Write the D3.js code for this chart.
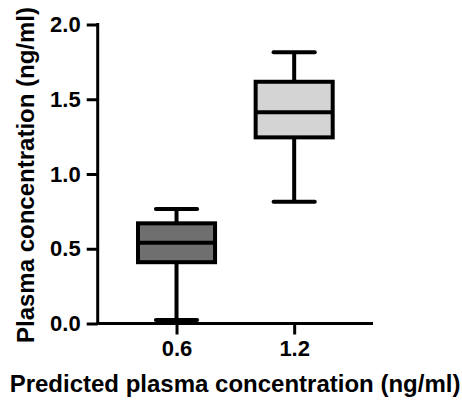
<!DOCTYPE html>
<html><head><meta charset="utf-8">
<script src="https://cdn.jsdelivr.net/npm/d3@7"></script>
<style>body{margin:0;background:#fff}svg{display:block}</style>
</head><body>
<script>
const categories = ["0.6", "1.2"];
const whiskerLow = [0.023, 0.815];
const q1 = [0.41, 1.245];
const median = [0.54, 1.413];
const q3 = [0.67, 1.617];
const whiskerHigh = [0.766, 1.814];
const fills = ["#6f6f6f", "#d4d4d4"];
const yTicks = [0, 0.5, 1.0, 1.5, 2.0];

const W = 462, H = 403;
const svg = d3.select("body").append("svg").attr("width", W).attr("height", H);
const font = "'Liberation Sans', Arial, sans-serif";

const y = d3.scaleLinear().domain([0, 2]).range([323.5, 24.5]);
const x = d3.scalePoint().domain(categories).range([97.7, 373]).padding(0.67);
const step = x.step();
const boxW = 0.655 * step, capW = 0.35 * step;

// boxes
const g = svg.append("g");
categories.forEach((c, i) => {
  const cx = x(c);
  const gg = g.append("g").attr("stroke", "#000").attr("stroke-width", 4);
  gg.append("line").attr("x1", cx).attr("x2", cx).attr("y1", y(whiskerHigh[i])).attr("y2", y(q3[i]));
  gg.append("line").attr("x1", cx).attr("x2", cx).attr("y1", y(q1[i])).attr("y2", y(whiskerLow[i]));
  gg.append("line").attr("x1", cx - capW/2).attr("x2", cx + capW/2).attr("y1", y(whiskerHigh[i])).attr("y2", y(whiskerHigh[i])).attr("stroke-linecap", "round");
  gg.append("line").attr("x1", cx - capW/2).attr("x2", cx + capW/2).attr("y1", y(whiskerLow[i])).attr("y2", y(whiskerLow[i])).attr("stroke-linecap", "round");
  gg.append("rect").attr("x", cx - boxW/2).attr("width", boxW).attr("y", y(q3[i])).attr("height", y(q1[i]) - y(q3[i])).attr("fill", fills[i]);
  gg.append("line").attr("x1", cx - boxW/2).attr("x2", cx + boxW/2).attr("y1", y(median[i])).attr("y2", y(median[i]));
});

// axes
const ya = svg.append("g").attr("transform", "translate(97.7,0)")
  .call(d3.axisLeft(y).tickValues(yTicks).tickFormat(d3.format(".1f")).tickSize(11).tickSizeOuter(0).tickPadding(6));
const xa = svg.append("g").attr("transform", "translate(0,323.5)")
  .call(d3.axisBottom(x).tickSize(11).tickSizeOuter(0).tickPadding(6));
[ya, xa].forEach(a => {
  a.selectAll("path, line").attr("stroke", "#000").attr("stroke-width", 3);
  a.selectAll("text").attr("fill", "#000").style("font-family", font).style("font-weight", "bold").style("font-size", "22px");
});
ya.select("path").attr("d", `M0,${y(2)-1.5}V${y(0)}`);
xa.select("path").attr("d", `M96.2,0H373`);

// titles
svg.append("text").attr("x", 235).attr("y", 392).attr("text-anchor", "middle")
  .style("font-family", font).style("font-weight", "bold").style("font-size", "24px")
  .text("Predicted plasma concentration (ng/ml)");
svg.append("text").attr("transform", "translate(33.5,175) rotate(-90)").attr("text-anchor", "middle")
  .style("font-family", font).style("font-weight", "bold").style("font-size", "24px")
  .text("Plasma concentration (ng/ml)");
</script>
</body></html>
